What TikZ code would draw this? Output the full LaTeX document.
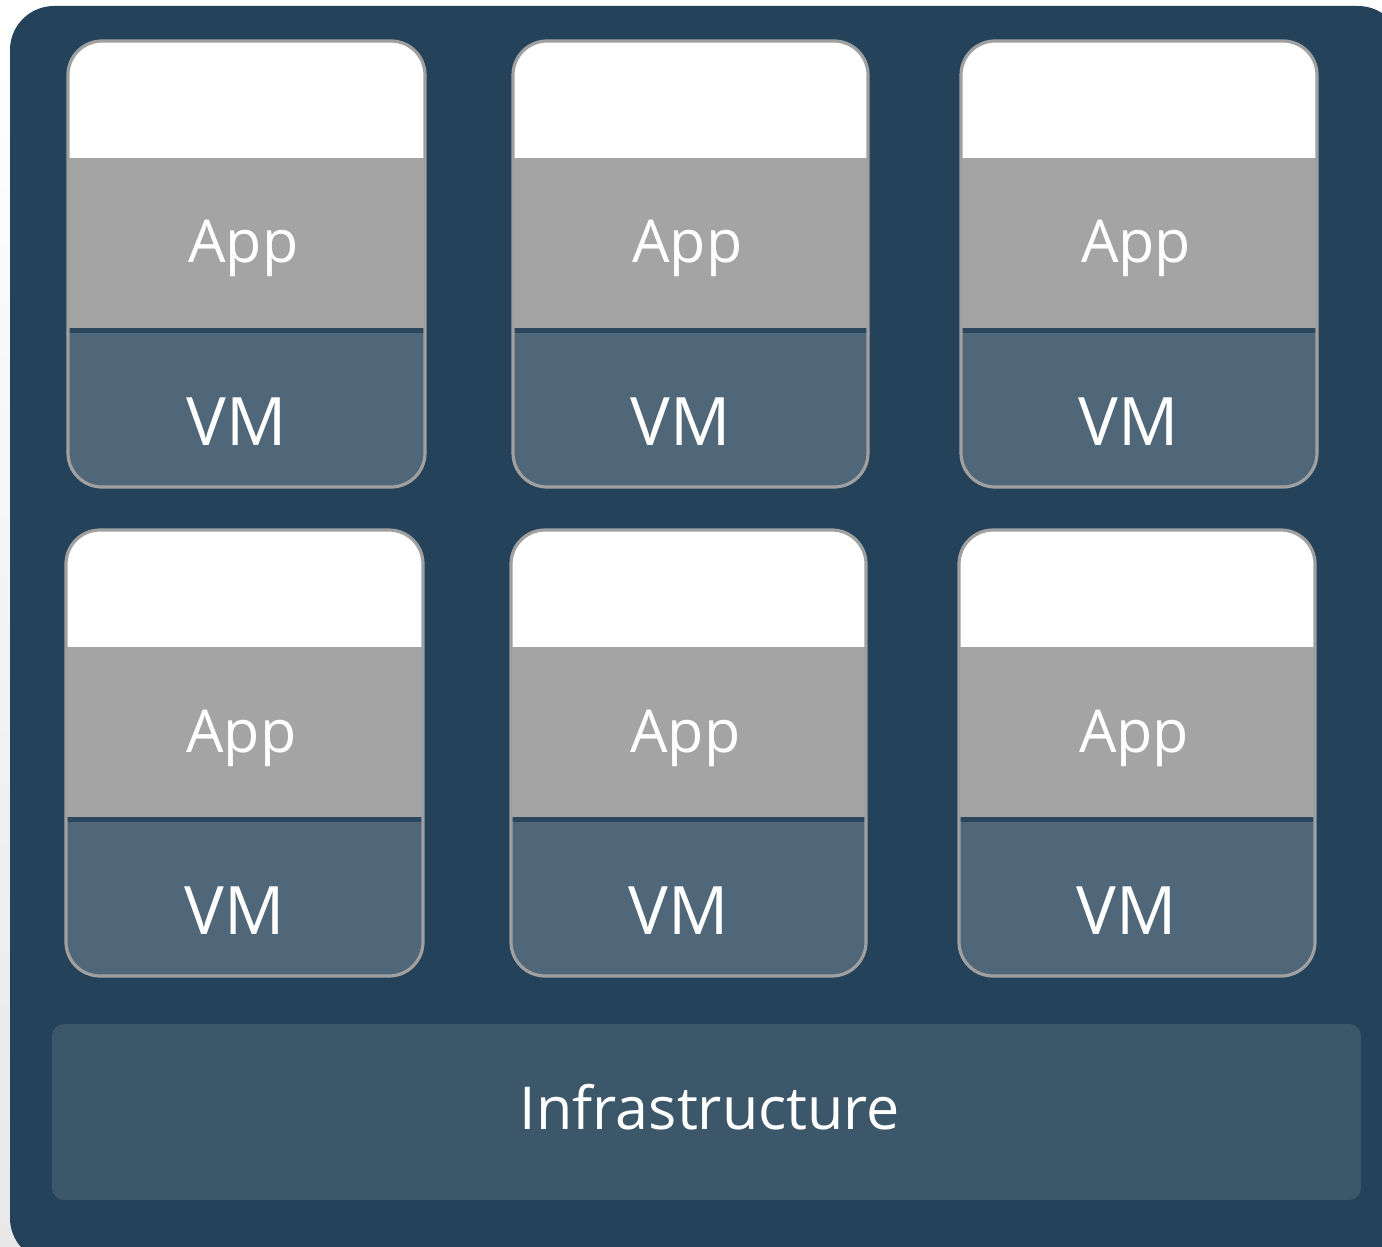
\documentclass[tikz,border=0pt]{standalone}
\usepackage{fontspec}
\setmainfont{Open Sans}
\definecolor{panel}{HTML}{24425A}
\definecolor{appgray}{HTML}{A4A4A4}
\definecolor{vmblue}{HTML}{4F6778}
\definecolor{rimgray}{HTML}{A0A0A0}
\definecolor{divider}{HTML}{2A475D}
\definecolor{infra}{HTML}{3C566A}
\tikzset{
  applabel/.style={text=white, font=\fontsize{29.6}{29.6}\selectfont, anchor=base, inner sep=0pt},
  vmlabel/.style={text=white, font=\fontsize{33.4}{33.4}\selectfont, anchor=base, inner sep=0pt},
  infralabel/.style={text=white, font=\fontsize{29.6}{29.6}\selectfont, anchor=base, inner sep=0pt},
  rim/.style={draw=rimgray, line width=1.6pt, rounded corners=17pt},
}
% one VM stack: #1 name, #2 left, #3 top, #4 right
\newcommand{\vmstack}[4]{%
  \begin{scope}
    \clip[rounded corners=17pt] (#2,#3) rectangle (#4,#3+446);
    \fill[white] (#2,#3) rectangle (#4,#3+117);
    \fill[appgray] (#2,#3+117) rectangle (#4,#3+287);
    \fill[vmblue] (#2,#3+287) rectangle (#4,#3+446);
    \fill[divider] (#2,#3+287) rectangle (#4,#3+292);
  \end{scope}
  \draw[rim] (#2,#3) rectangle (#4,#3+446);
  \node[applabel] (#1app) at ({(#2+#4)/2-3},#3+222) {App};
  \node[vmlabel] (#1vm) at ({(#2+#4)/2-10},#3+404) {VM};
}
\begin{document}
\begin{tikzpicture}[x=0.5pt,y=-0.5pt]
  \useasboundingbox (0,0) rectangle (1382,1247);
  \fill[top color=white, bottom color=black!9] (0,0) rectangle (1382,1247);
  \begin{scope}
    \clip (0,0) rectangle (1382,1247);
    \fill[panel, rounded corners=22pt] (10,6) rectangle (1402,1262);
  \end{scope}
  % upper row
  \vmstack{a}{68}{41}{425}
  \vmstack{b}{513}{41}{868}
  \vmstack{c}{961}{41}{1317}
  % lower row
  \vmstack{d}{66}{530}{423}
  \vmstack{e}{511}{530}{866}
  \vmstack{f}{959}{530}{1315}
  % infrastructure layer
  \fill[infra, rounded corners=6pt] (52,1024) rectangle (1361,1200);
  \node[infralabel] (infra) at (710,1129) {Infrastructure};
\end{tikzpicture}
\end{document}
